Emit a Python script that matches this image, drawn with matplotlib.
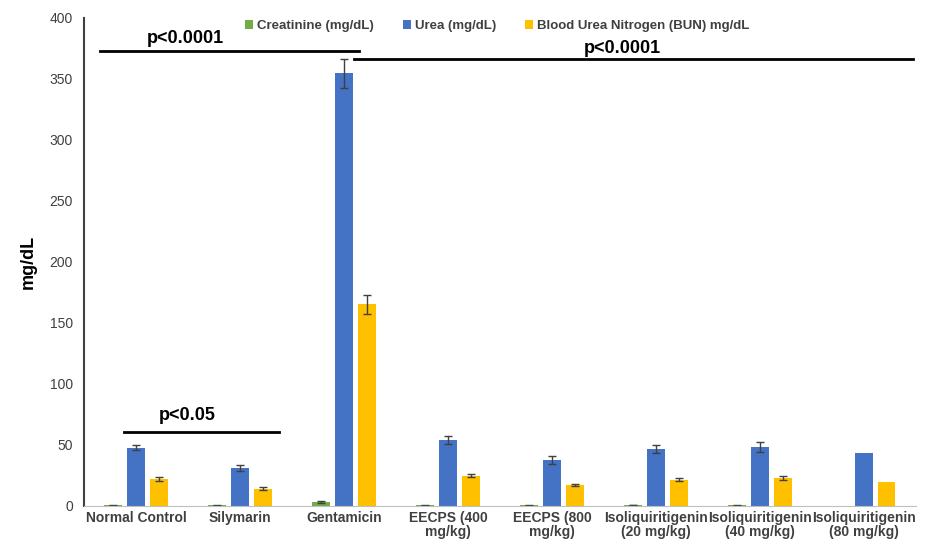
import numpy as np
import matplotlib.pyplot as plt

plt.rcParams['font.family'] = ['Liberation Sans', 'DejaVu Sans']

groups = ['Normal Control', 'Silymarin', 'Gentamicin', 'EECPS (400\nmg/kg)', 'EECPS (800\nmg/kg)',
          'Isoliquiritigenin\n(20 mg/kg)', 'Isoliquiritigenin\n(40 mg/kg)', 'Isoliquiritigenin\n(80 mg/kg)']
creat = [0.5, 0.5, 3.2, 0.5, 0.5, 0.8, 0.5, 0.0]
creat_err = [0.2, 0.2, 0.5, 0.2, 0.2, 0.2, 0.2, 0.0]
urea = [47.8, 30.9, 354.7, 54.0, 37.7, 46.5, 48.6, 43.7]
urea_err = [2.2, 2.5, 12.0, 3.5, 3.5, 3.5, 4.0, 0.0]
bun = [22.0, 14.2, 165.3, 24.8, 17.2, 21.6, 22.7, 19.9]
bun_err = [1.5, 1.3, 8.0, 1.5, 1.0, 1.5, 1.5, 0.0]
series = ['Creatinine (mg/dL)', 'Urea (mg/dL)', 'Blood Urea Nitrogen (BUN) mg/dL']
colors = ['#70AD47', '#4472C4', '#FFC000']

fig = plt.figure(figsize=(9.25, 5.44), dpi=100)
ax = fig.add_axes([0.091, 0.070, 0.899, 0.897])

x = np.arange(len(groups))
w = 0.17
step = 0.22
vals = [creat, urea, bun]
errs = [creat_err, urea_err, bun_err]
for i in range(3):
    xs = x + (i - 1) * step
    ax.bar(xs, vals[i], w, color=colors[i], label=series[i])
    # skip error bars where no SD was reported
    m = np.array(errs[i]) > 0
    ax.errorbar(xs[m], np.array(vals[i])[m], yerr=np.array(errs[i])[m], fmt='none',
                ecolor='#404040', elinewidth=1, capsize=3, capthick=1)

ax.set_xlim(-0.5, 7.5)
ax.set_ylim(0, 400)
ax.set_yticks(np.arange(0, 401, 50))
ax.set_xticks(x)
ax.set_xticklabels(groups, fontsize=10, color='#404040', fontweight='bold', linespacing=1.0)
ax.tick_params(axis='y', length=0, labelsize=10, labelcolor='#404040', pad=8)
ax.tick_params(axis='x', length=0, pad=4)
for s in ['top', 'right']:
    ax.spines[s].set_visible(False)
ax.spines['left'].set_color('#404040')
ax.spines['left'].set_linewidth(1.5)
ax.spines['bottom'].set_color('#bfbfbf')
ax.set_ylabel('mg/dL', fontsize=13, fontweight='bold', labelpad=9)

# significance bars
ax.plot([-0.35, 2.14], [373, 373], color='black', lw=2, clip_on=False)
ax.text(0.47, 376, 'p<0.0001', ha='center', va='bottom', fontsize=13, fontweight='bold')
ax.plot([2.1, 7.47], [366, 366], color='black', lw=2, clip_on=False)
ax.text(4.68, 368, 'p<0.0001', ha='center', va='bottom', fontsize=13, fontweight='bold')
ax.plot([-0.12, 1.37], [60.7, 60.7], color='black', lw=2)
ax.text(0.49, 67, 'p<0.05', ha='center', va='bottom', fontsize=13, fontweight='bold')

leg = ax.legend(loc='upper center', bbox_to_anchor=(0.497, 1.02), ncol=3, frameon=False,
                handlelength=0.6, handleheight=0.6, handletextpad=0.3, columnspacing=2.2,
                prop=dict(size=9.5, weight='bold'))
for t in leg.get_texts():
    t.set_color('#404040')

fig.savefig('out.png', dpi=100)
